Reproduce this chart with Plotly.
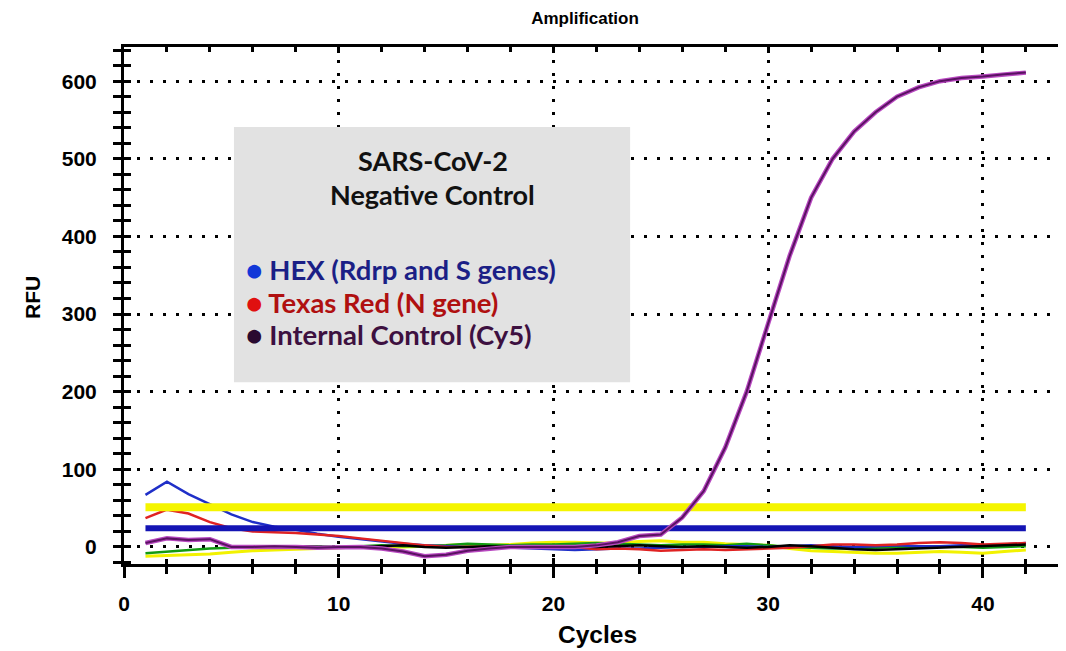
import plotly.graph_objects as go

cycles = list(range(1, 43))

hex_rfu = [67, 84, 68, 55, 42, 32, 26, 22, 17, 13, 10, 7, 4, 2, 1, 0, 0, -1, -2, -3, -4,
           -3, -2, -2, -1, 0, 0, 1, 1, 0, 1, 2, 1, 0, 1, 2, 1, 1, 2, 2, 3, 5]
texas_red_rfu = [37, 48, 43, 32, 24, 20, 19, 18, 16, 14, 11, 8, 5, 2, 0, 0, 0, 0, -1, 0, 0,
                 -3, -2, -3, -5, -4, -3, -4, -3, -2, -1, 1, 3, 3, 2, 3, 5, 6, 5, 3, 4, 5]
cy5_rfu = [5, 11, 9, 10, 0, 0, 1, 0, -1, 0, 0, -2, -6, -12, -10, -5, -2, 0, 0, 0, 0,
           2, 6, 14, 16, 38, 72, 128, 200, 288, 375, 450, 500, 535, 560, 580, 592, 600,
           604, 606, 609, 611]
green_rfu = [-8, -6, -4, -2, -1, 0, 0, 1, 1, 0, 1, 2, 1, 1, 2, 4, 3, 2, 3, 3, 4,
             5, 4, 3, 2, 3, 3, 2, 4, 2, 0, -1, -2, -2, -1, 0, 0, 1, 0, -1, 0, 1]
yellow_rfu = [-12, -11, -10, -9, -7, -5, -4, -3, -2, -1, 0, 0, 0, 1, 2, 3, 2, 3, 5, 6, 6,
              5, 5, 7, 8, 6, 6, 4, 3, 2, -2, -5, -6, -7, -8, -8, -7, -6, -7, -8, -6, -4]
black_cycles = list(range(5, 43))
black_rfu = [0, -1, 0, 1, 0, -1, 0, 1, 2, 0, -1, 0, 1, 0, -1, 0, 1, 0, 1, 2, 1, 0,
             1, 0, -1, 0, 2, 1, -1, -3, -4, -3, -2, -1, 0, 1, 2, 3]

threshold_cycles = [1, 42]
threshold_yellow = 51
threshold_blue = 24

x_ticks = [0, 10, 20, 30, 40]
y_ticks = [0, 100, 200, 300, 400, 500, 600]

OFF = 8  # page body margin
W, H = 1066 - OFF, 651 - OFF
PLOT_L, PLOT_T = 124 - OFF, 47 - OFF
PLOT_B = H - (564 - OFF)
XR = [0, 43.87]
YR = [-22, 644]

fig = go.Figure()

def line(x, y, color, width, name):
    fig.add_trace(go.Scatter(x=x, y=y, mode="lines", name=name,
                             line=dict(color=color, width=width), showlegend=False))

line(cycles, yellow_rfu, "#f2f200", 3, "yellow")
line(cycles, green_rfu, "#129a12", 2.5, "green")
line(cycles, hex_rfu, "#1f2fc8", 2.5, "HEX")
line(cycles, texas_red_rfu, "#e02222", 2.5, "Texas Red")
line(black_cycles, black_rfu, "#000000", 2.5, "black")
line(threshold_cycles, [threshold_blue] * 2, "#1414b4", 6, "HEX threshold")
line(threshold_cycles, [threshold_yellow] * 2, "#f5f500", 8, "threshold")
line(cycles, cy5_rfu, "#b848c0", 4.5, "Cy5 glow")
line(cycles, cy5_rfu, "#5a1262", 2, "Internal Control (Cy5)")

fig.add_trace(go.Scatter(x=[None], y=[None], xaxis="x2", yaxis="y2", showlegend=False))

tickfont = dict(family="Liberation Sans, Arial", size=21, color="black", weight="bold")
dots = "3px,10px"

fig.update_layout(
    width=W, height=H,
    margin=dict(l=PLOT_L, r=0, t=PLOT_T, b=PLOT_B),
    paper_bgcolor="white", plot_bgcolor="white",
    title=dict(text="<b>Amplification</b>", x=(585 - 124) / (W - PLOT_L), xref="paper",
               xanchor="center", y=1 - (18 - OFF) / H, yref="container", yanchor="middle",
               font=dict(family="Liberation Sans, Arial", size=17, color="black")),
    xaxis=dict(range=XR, tickvals=x_ticks, ticks="outside", ticklen=11, tickwidth=3,
               tickcolor="black", showline=True, linewidth=3, linecolor="black", mirror=True,
               showgrid=True, gridcolor="black", gridwidth=3, griddash=dots,
               zeroline=False, tickfont=tickfont, ticklabelstandoff=8,
               minor=dict(dtick=2, tick0=0, ticks="outside", ticklen=7, tickwidth=2.5,
                          tickcolor="black", showgrid=False)),
    yaxis=dict(range=YR, tickvals=y_ticks, ticks="outside", ticklen=8, tickwidth=3,
               tickcolor="black", showline=True, linewidth=3, linecolor="black", mirror=False,
               showgrid=True, gridcolor="black", gridwidth=3, griddash=dots,
               zeroline=False, tickfont=tickfont, ticklabelstandoff=12,
               minor=dict(dtick=20, tick0=0, ticks="outside", ticklen=8, tickwidth=2.5,
                          tickcolor="black", showgrid=False)),
    xaxis2=dict(range=XR, overlaying="x", side="bottom", anchor="y2", tickvals=x_ticks,
                ticks="inside", ticklen=6, tickwidth=3, tickcolor="black", mirror="ticks",
                showline=False, showgrid=False, zeroline=False, showticklabels=False,
                minor=dict(dtick=2, tick0=0, ticks="inside", ticklen=5, tickwidth=2.5,
                           tickcolor="black", showgrid=False)),
    yaxis2=dict(range=YR, overlaying="y", side="left", anchor="x2", tickvals=y_ticks,
                ticks="inside", ticklen=7, tickwidth=3, tickcolor="black",
                showline=False, showgrid=False, zeroline=False, showticklabels=False,
                minor=dict(dtick=20, tick0=0, ticks="inside", ticklen=7, tickwidth=2.5,
                           tickcolor="black", showgrid=False)),
)

fig.add_shape(type="rect", xref="x", yref="y", x0=5.12, x1=23.57, y0=212, y1=541,
              fillcolor="#e2e2e2", line=dict(width=0), layer="above")

tfont = dict(family="Lato, Open Sans", size=27, color="#111111", weight="bold")
fig.add_annotation(x=14.39, y=498, xref="x", yref="y", text="SARS-CoV-2", showarrow=False,
                   font=tfont, xanchor="center", yanchor="middle")
fig.add_annotation(x=14.39, y=454, xref="x", yref="y", text="Negative Control", showarrow=False,
                   font=tfont, xanchor="center", yanchor="middle")

entries = [
    ("#1238d8", "#1b1f86", "HEX (Rdrp and S genes)", 358),
    ("#e01010", "#b01010", "Texas Red (N gene)", 315),
    ("#2a0a30", "#3d1040", "Internal Control (Cy5)", 274),
]
for dot_c, txt_c, label, yv in entries:
    fig.add_annotation(x=5.6, y=yv, xref="x", yref="y",
                       text=f"<span style='color:{dot_c}'>●</span> {label}",
                       showarrow=False, xanchor="left", yanchor="middle",
                       font=dict(family="Lato, Open Sans", size=27.5, color=txt_c, weight="bold"))

plot_w = W - PLOT_L
plot_h = H - PLOT_T - PLOT_B
fig.add_annotation(x=(597 - 124) / plot_w, y=(564 - 634) / plot_h, xref="paper",
                   yref="paper", text="Cycles", showarrow=False,
                   font=dict(family="Liberation Sans, Arial", size=24.5, color="black", weight="bold"),
                   xanchor="center", yanchor="middle")
fig.add_annotation(x=(32 - 124) / plot_w, y=(564 - 298) / plot_h, xref="paper",
                   yref="paper", text="RFU", showarrow=False,
                   font=dict(family="Liberation Sans, Arial", size=21, color="black", weight="bold"),
                   textangle=-90, xanchor="center", yanchor="middle")

fig.write_html("out.html")
